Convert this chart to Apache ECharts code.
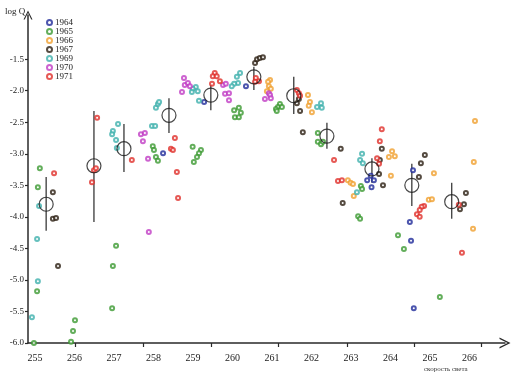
<!DOCTYPE html>
<html><head><meta charset="utf-8">
<script src="https://cdn.jsdelivr.net/npm/echarts@6/dist/echarts.min.js"></script>
<style>html,body{margin:0;padding:0;background:#fff}#c{width:511px;height:379px}</style>
</head><body><div id="c"></div>
<script>
// ---- data ----
const years = ['1964','1965','1966','1967','1969','1970','1971'];
const xTickLabels = [255,256,257,258,259,260,261,262,263,264,265,266];
const xTickMarks = [256.01,257.73,259.45,261.17,262.90,264.59,266.31];
const yTickLabels = [-1.5,-2.0,-2.5,-3.0,-3.5,-4.0,-4.5,-5.0,-5.5,-6.0];

const d1964 = [[258.24,-2.99],[259.28,-2.18],[260.34,-1.93],[263.50,-3.35],[263.41,-3.42],[263.58,-3.42],[263.52,-3.53],
  [264.57,-3.26],[264.49,-4.08],[264.52,-4.38],[264.59,-5.45]];
const d1965 = [[255.12,-3.23],[255.07,-3.53],[255.05,-5.18],[254.97,-6.00],[256.01,-5.64],[255.96,-5.81],[255.91,-5.98],
  [257.05,-4.46],[256.97,-4.78],[256.95,-5.45],[257.98,-2.88],[258.01,-2.94],[258.06,-3.05],[258.11,-3.11],
  [258.99,-2.89],[259.20,-2.94],[259.15,-2.99],[259.10,-3.05],[259.02,-3.13],
  [260.04,-2.31],[260.16,-2.27],[260.21,-2.35],[260.06,-2.42],[260.16,-2.42],
  [261.20,-2.21],[261.15,-2.26],[261.25,-2.26],[261.10,-2.29],[261.12,-2.32],
  [262.16,-2.67],[262.16,-2.81],[262.24,-2.85],[262.29,-2.81],
  [263.25,-3.51],[263.28,-3.56],[263.18,-3.99],[263.23,-4.03],[264.19,-4.29],[264.34,-4.51],[265.25,-5.27]];
const d1966 = [[260.95,-1.83],[260.90,-1.86],[260.92,-1.93],[260.97,-1.97],[260.87,-2.01],
  [261.91,-2.07],[261.96,-2.18],[261.93,-2.24],[262.01,-2.34],
  [262.92,-3.42],[262.99,-3.46],[263.05,-3.48],[263.07,-3.67],
  [264.04,-2.96],[263.96,-3.05],[264.11,-3.04],[264.01,-3.35],
  [265.10,-3.31],[264.97,-3.73],[265.05,-3.72],[266.14,-2.48],[266.11,-3.13],[266.09,-4.19]];
const d1967 = [[255.45,-3.61],[255.45,-4.03],[255.53,-4.02],[255.58,-4.78],
  [260.57,-1.56],[260.62,-1.50],[260.69,-1.48],[260.77,-1.47],
  [261.68,-2.13],[261.63,-2.20],[261.71,-2.32],[261.78,-2.66],[262.74,-2.92],[262.79,-3.78],
  [263.78,-2.92],[263.73,-3.10],[263.71,-3.32],[263.81,-3.50],
  [264.87,-3.02],[264.77,-3.15],[264.72,-3.37],[265.91,-3.62],[265.86,-3.80],[265.76,-3.88]];
const d1969 = [[255.10,-3.83],[255.05,-4.35],[255.07,-5.02],[254.92,-5.59],
  [257.10,-2.53],[256.97,-2.64],[256.95,-2.69],[257.05,-2.78],[257.07,-2.91],
  [257.96,-2.56],[258.04,-2.56],[258.06,-2.27],[258.11,-2.21],[258.14,-2.18],
  [259.07,-1.94],[258.99,-1.97],[258.97,-2.02],[259.12,-2.01],[259.15,-2.16],
  [260.19,-1.72],[260.11,-1.78],[260.14,-1.88],[260.04,-1.89],[259.98,-1.93],
  [262.14,-2.26],[262.24,-2.20],[262.26,-2.27],
  [263.28,-3.00],[263.23,-3.10],[263.30,-3.15],[263.15,-3.61]];
const d1970 = [[257.88,-4.24],[257.68,-2.69],[257.78,-2.67],[257.73,-2.80],[257.86,-3.08],
  [258.77,-1.80],[258.79,-1.91],[258.87,-1.88],[258.92,-1.93],[258.72,-2.02],
  [259.76,-1.91],[259.83,-1.89],[259.81,-2.05],[259.91,-2.04],[259.91,-2.15],
  [260.92,-2.04],[260.95,-2.07],[260.97,-2.12],[260.82,-2.13]];
const d1971 = [[255.48,-3.31],[256.57,-2.43],[256.49,-3.26],[256.54,-3.23],[256.44,-3.45],[257.45,-3.10],
  [258.54,-2.75],[258.44,-2.92],[258.49,-2.94],[258.59,-3.29],[258.62,-3.70],
  [259.48,-1.89],[259.55,-1.72],[259.50,-1.77],[259.60,-1.77],[259.68,-1.85],
  [260.59,-1.80],[260.67,-1.85],[260.57,-1.86],[261.63,-1.99],[261.68,-2.04],[261.71,-2.08],
  [262.57,-3.10],[262.67,-3.43],[262.77,-3.42],
  [263.78,-2.61],[263.73,-2.80],[263.66,-3.07],[263.71,-3.16],
  [264.85,-3.83],[264.79,-3.84],[264.74,-3.89],[264.67,-3.96],[264.74,-4.00],[265.73,-3.81],[265.81,-4.57]];

const meanX = [255.28,256.49,257.25,258.39,259.45,260.54,261.55,262.39,263.53,264.54,265.55];
const meanY = [-3.80,-3.19,-2.92,-2.39,-2.07,-1.78,-2.08,-2.72,-3.24,-3.50,-3.76];
const errHigh = [-3.37,-2.32,-2.53,-2.12,-1.91,-1.62,-1.78,-2.51,-3.07,-3.16,-3.46];
const errLow = [-4.22,-4.08,-3.29,-2.67,-2.31,-1.99,-2.37,-2.92,-3.46,-3.83,-4.03];

// ---- styles ----
const yearData = [d1964,d1965,d1966,d1967,d1969,d1970,d1971];
const yearColors = ['#1f2a9a','#3c9a32','#f0a030','#2a1e12','#3fb0ac','#c03cc4','#e0302a'];
const serif = '"Liberation Serif","DejaVu Serif",serif';
const chevron = 'path://M0,10 L5,0 L10,10 L8.6,10 L5,2.6 L1.4,10 Z';

const chart = echarts.init(document.getElementById('c'), null, {renderer:'canvas'});
const series = [];
series.push({
  type:'custom', name:'err', silent:true, z:1,
  data: meanX.map((x,i)=>[x, errLow[i], errHigh[i]]),
  renderItem:(params, api)=>{
    const a = api.coord([api.value(0), api.value(2)]);
    const b = api.coord([api.value(0), api.value(1)]);
    return {type:'line', shape:{x1:a[0],y1:a[1],x2:b[0],y2:b[1]}, style:{stroke:'#474747', lineWidth:1.4}};
  }
});
years.forEach((y,i)=>{
  series.push({type:'scatter', name:y, data:yearData[i], symbol:'emptyCircle', symbolSize:4, z:2,
    itemStyle:{color:yearColors[i], borderColor:yearColors[i], borderWidth:1.25}});
});
series.push({type:'scatter', name:'mean', data: meanX.map((x,i)=>[x, meanY[i]]), symbol:'circle', symbolSize:14, z:3,
  itemStyle:{color:'rgba(255,255,255,0)', borderColor:'#1a1a1a', borderWidth:1.2}});

chart.setOption({
  animation:false,
  backgroundColor:'#fff',
  grid:{left:28, right:6, top:15, bottom:36, containLabel:false},
  legend:{data:years, orient:'vertical', left:41, top:13, itemWidth:5, itemHeight:5, itemGap:0,
    icon:'emptyCircle',
    textStyle:{fontFamily:serif, fontSize:9, lineHeight:9, color:'#222', padding:[0,0,0,-2]}},
  xAxis:{type:'value', min:254.82, max:266.9,
    splitLine:{show:false},
    axisLine:{show:true, lineStyle:{color:'#2a2a2a', width:1.5}, symbol:['none', chevron], symbolSize:[11,12], symbolOffset:[0,0]},
    axisTick:{show:true, customValues:xTickMarks, length:4, lineStyle:{color:'#2a2a2a', width:1.2}},
    axisLabel:{customValues:xTickLabels, fontFamily:serif, fontSize:10, color:'#222', margin:10, formatter:v=>String(Math.round(v))}
  },
  yAxis:{type:'value', min:-6, max:-0.8,
    splitLine:{show:false},
    axisLine:{show:true, onZero:false, lineStyle:{color:'#2a2a2a', width:1.5}, symbol:['none', chevron], symbolSize:[9,12]},
    axisTick:{show:true, customValues:yTickLabels, length:3, lineStyle:{color:'#2a2a2a', width:1.2}},
    axisLabel:{customValues:yTickLabels, fontFamily:serif, fontSize:9, color:'#222', margin:4, formatter:v=>v.toFixed(1)}
  },
  graphic:[
    {type:'text', left:5, top:7, style:{text:'log Q', font:'9px '+serif, fill:'#222'}},
    {type:'text', left:424, top:366, style:{text:'скорость света', font:'7px '+serif, fill:'#333'}}
  ],
  series: series
});
</script></body></html>
